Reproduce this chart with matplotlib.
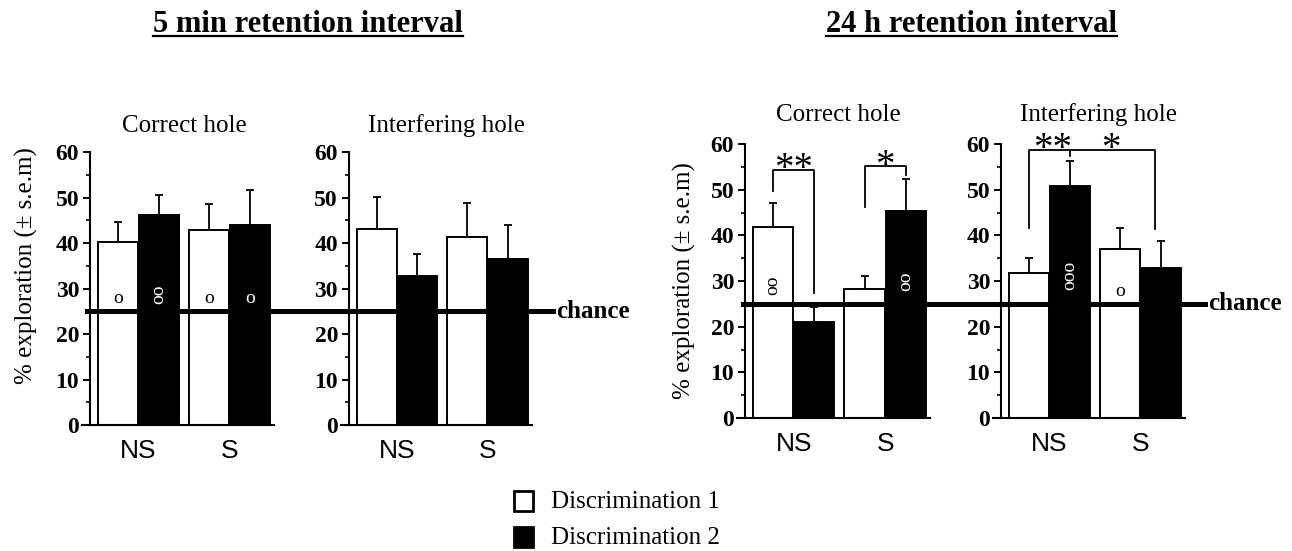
import matplotlib
matplotlib.use('Agg')
import matplotlib.pyplot as plt
import matplotlib.transforms as mtransforms
from matplotlib.lines import Line2D
from matplotlib.patches import Rectangle
from matplotlib.ticker import MultipleLocator

SERIF = 'Liberation Serif'
SANS = 'Liberation Sans'

groups = ['NS', 'S']

# % exploration, order [NS, S]
min5_correct_d1 = [40.2, 42.8]
min5_correct_d1_sem = [4.4, 5.7]
min5_correct_d2 = [46.1, 43.9]
min5_correct_d2_sem = [4.5, 7.8]

min5_interf_d1 = [43.0, 41.3]
min5_interf_d1_sem = [7.1, 7.6]
min5_interf_d2 = [32.7, 36.4]
min5_interf_d2_sem = [4.8, 7.6]

h24_correct_d1 = [41.9, 28.2]
h24_correct_d1_sem = [5.1, 3.0]
h24_correct_d2 = [21.1, 45.4]
h24_correct_d2_sem = [3.3, 7.0]

h24_interf_d1 = [31.7, 37.0]
h24_interf_d1_sem = [3.3, 4.7]
h24_interf_d2 = [50.8, 32.8]
h24_interf_d2_sem = [5.5, 5.9]

chance = 25

# "o" marks inside bars: (group, discrimination, text, height)
min5_correct_marks = [(0, 1, 'o', 27.9), (0, 2, 'oo', 28.8), (1, 1, 'o', 27.9), (1, 2, 'o', 27.9)]
min5_interf_marks = []
h24_correct_marks = [(0, 1, 'oo', 29.1), (1, 2, 'oo', 30.0)]
h24_interf_marks = [(0, 2, 'ooo', 31.2), (1, 1, 'o', 27.7)]

W, H = 1292, 551


def fx(x):
    return x / W


def fy(y):
    return 1 - y / H


fig = plt.figure(figsize=(W / 100, H / 100), dpi=100)

bw = 0.44
off = 0.225


def xpos(g, d):
    return g + (-off if d == 1 else off)


def panel(rect, d1, d1e, d2, d2e, marks):
    l, r, t, b = rect
    ax = fig.add_axes([fx(l), fy(b), fx(r - l), (b - t) / H])
    x1 = [xpos(g, 1) for g in range(len(groups))]
    x2 = [xpos(g, 2) for g in range(len(groups))]
    ax.bar(x1, d1, width=bw, color='white', edgecolor='black', linewidth=1.4, zorder=2)
    ax.bar(x2, d2, width=bw, color='black', edgecolor='black', linewidth=1.4, zorder=2)
    ax.errorbar(x1, d1, yerr=[[0] * len(d1), d1e], fmt='none', ecolor='black',
                elinewidth=1.3, capsize=2.8, capthick=1.3, zorder=1)
    ax.errorbar(x2, d2, yerr=[[0] * len(d2), d2e], fmt='none', ecolor='black',
                elinewidth=1.3, capsize=2.8, capthick=1.3, zorder=1)
    for g, d, txt, y in marks:
        col = 'black' if d == 1 else 'white'
        rot = 90 if len(txt) > 1 else 0
        ax.text(xpos(g, d), y, txt, color=col, ha='center', va='center',
                rotation=rot, fontsize=14, family=SERIF, zorder=3)
    ax.set_xlim(-0.62, 1.49)
    ax.set_ylim(0, 60)
    ax.spines['top'].set_visible(False)
    ax.spines['right'].set_visible(False)
    ax.spines['left'].set_position(('data', -0.53))
    ax.spines['left'].set_linewidth(1.5)
    ax.spines['bottom'].set_linewidth(1.5)
    ax.yaxis.set_major_locator(MultipleLocator(10))
    ax.yaxis.set_minor_locator(MultipleLocator(5))
    ax.tick_params(axis='y', which='major', length=5, width=1.4, pad=3)
    ax.tick_params(axis='y', which='minor', length=3, width=1.2)
    ax.set_xticks(range(len(groups)))
    ax.set_xticklabels(groups, fontsize=19, family=SANS)
    ax.tick_params(axis='x', length=0, pad=10)
    for lab in ax.get_yticklabels():
        lab.set_fontfamily(SERIF)
        lab.set_fontweight('bold')
        lab.set_fontsize(17)
    ax.patch.set_visible(False)
    return ax


ax1 = panel((82, 274, 152, 425), min5_correct_d1, min5_correct_d1_sem,
            min5_correct_d2, min5_correct_d2_sem, min5_correct_marks)
ax2 = panel((341, 532, 152, 425), min5_interf_d1, min5_interf_d1_sem,
            min5_interf_d2, min5_interf_d2_sem, min5_interf_marks)
ax3 = panel((737, 930, 144, 418), h24_correct_d1, h24_correct_d1_sem,
            h24_correct_d2, h24_correct_d2_sem, h24_correct_marks)
ax4 = panel((993, 1185, 144, 418), h24_interf_d1, h24_interf_d1_sem,
            h24_interf_d2, h24_interf_d2_sem, h24_interf_marks)

# subtitles
fig.text(fx(184), fy(132), 'Correct hole', ha='center', va='baseline', fontsize=18, family=SERIF)
fig.text(fx(446), fy(132), 'Interfering hole', ha='center', va='baseline', fontsize=18, family=SERIF)
fig.text(fx(838), fy(121), 'Correct hole', ha='center', va='baseline', fontsize=18, family=SERIF)
fig.text(fx(1098), fy(121), 'Interfering hole', ha='center', va='baseline', fontsize=18, family=SERIF)

# y labels
ylab = '% exploration (\u00b1 s.e.m)'
fig.text(fx(26), fy(266), ylab, rotation=90, ha='center', va='center', fontsize=18, family=SERIF)
fig.text(fx(684), fy(281), ylab, rotation=90, ha='center', va='center', fontsize=18, family=SERIF)

# chance lines spanning both panels of each interval
for ax, x0, x1 in [(ax1, 87, 553), (ax3, 743, 1205)]:
    tr = mtransforms.blended_transform_factory(fig.transFigure, ax.transData)
    fig.add_artist(Line2D([fx(x0), fx(x1)], [chance, chance], transform=tr,
                          color='black', lw=3.6, zorder=5))
    fig.text(fx(x1 + 3), chance, 'chance', transform=tr, ha='left', va='center',
             fontsize=18, fontweight='bold', family=SERIF)

# significance brackets, 24 h
bk = dict(color='black', lw=1.3, clip_on=False, zorder=4)
st = dict(ha='center', va='baseline', fontsize=28, family=SERIF)
ax3.plot([xpos(0, 1), xpos(0, 1), xpos(0, 2), xpos(0, 2)], [49.6, 54.2, 54.2, 27.4], **bk)
ax3.text(0, 52.3, '**', **st)
ax3.plot([xpos(1, 1), xpos(1, 1), xpos(1, 2), xpos(1, 2)], [46.2, 55.2, 55.2, 53.2], **bk)
ax3.text(1, 53.0, '*', **st)
ax4.plot([xpos(0, 1), xpos(0, 1), xpos(1, 2) - 0.06, xpos(1, 2) - 0.06], [41.5, 58.7, 58.7, 41.3], **bk)
ax4.plot([xpos(0, 2), xpos(0, 2)], [58.7, 57.3], **bk)
ax4.text(0.03, 56.8, '**', **st)
ax4.text(0.68, 56.8, '*', **st)

# titles with underline
titles = [fig.text(fx(308), fy(32), '5 min retention interval', ha='center', va='baseline',
                   fontsize=22, fontweight='bold', family=SERIF),
          fig.text(fx(971), fy(32), '24 h retention interval', ha='center', va='baseline',
                   fontsize=22, fontweight='bold', family=SERIF)]
fig.canvas.draw()
for t in titles:
    bb = t.get_window_extent()
    yline = fy(36)
    fig.add_artist(Line2D([bb.x0 / W, bb.x1 / W], [yline, yline], transform=fig.transFigure,
                          color='black', lw=1.6))

# legend
for i, (fc, lab) in enumerate([('white', 'Discrimination 1'), ('black', 'Discrimination 2')]):
    top = 491 + i * 36
    fig.add_artist(Rectangle((fx(514), fy(top + 20)), fx(19), 20 / H, transform=fig.transFigure,
                             facecolor=fc, edgecolor='black', lw=2))
    fig.text(fx(551), fy(top + 17), lab, ha='left', va='baseline', fontsize=18, family=SERIF)

fig.savefig('out.png', dpi=100)
